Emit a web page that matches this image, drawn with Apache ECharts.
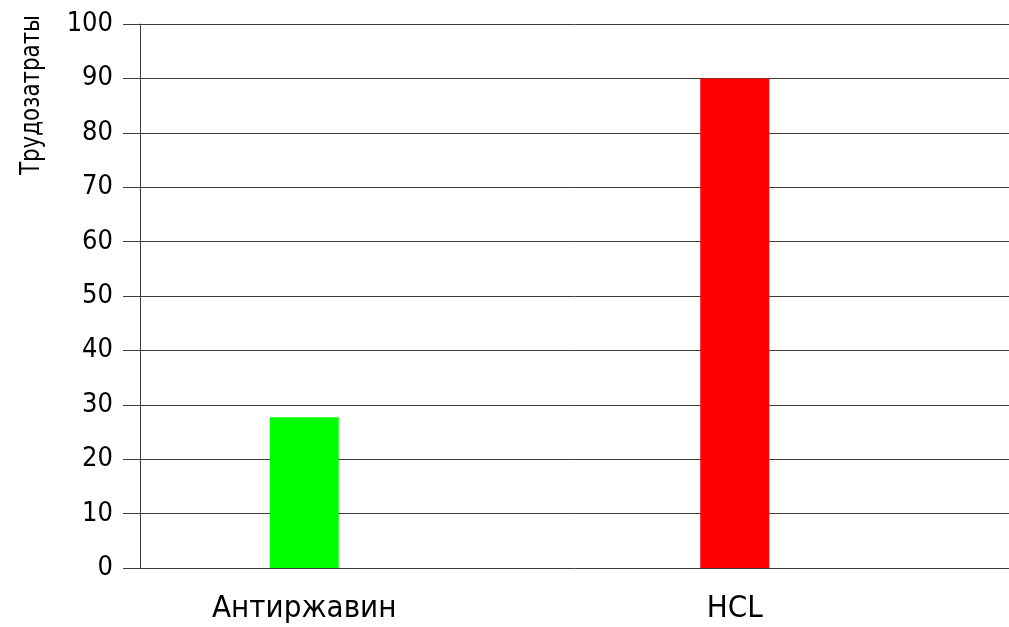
<!DOCTYPE html>
<html>
<head>
<meta charset="utf-8">
<script src="https://cdn.jsdelivr.net/npm/echarts@6/dist/echarts.min.js"></script>
<style>
html,body{margin:0;padding:0;background:#fff;}
#chart{width:1009px;height:627px;}
</style>
</head>
<body>
<div id="chart"></div>
<script>
const categories = ['Антиржавин', 'HCL'];
const values = [27.7, 90];
const barColors = ['#00ff00', '#ff0000'];
const yAxisTitle = 'Трудозатраты';
const yMin = 0, yMax = 100, yStep = 10;

const FONT = '"DejaVu Sans Condensed", "Liberation Sans Narrow", sans-serif';
const LINE = '#3c3c3c';

const chart = echarts.init(document.getElementById('chart'), null, {renderer: 'canvas'});
chart.setOption({
  animation: false,
  backgroundColor: '#ffffff',
  grid: [
    {left: 89, width: 861, top: 24, height: 544},
    {left: 140, width: 869, top: 24, height: 544}
  ],
  xAxis: [
    {
      type: 'category', gridIndex: 0, data: categories,
      axisLine: {show: false}, axisTick: {show: false},
      axisLabel: {color: '#000', fontFamily: FONT, fontSize: 31, margin: 25}
    },
    {
      type: 'category', gridIndex: 1, data: categories,
      axisLine: {show: false}, axisTick: {show: false}, axisLabel: {show: false}
    }
  ],
  yAxis: [
    {
      type: 'value', gridIndex: 0, min: yMin, max: yMax, interval: yStep, show: false
    },
    {
      type: 'value', gridIndex: 1, min: yMin, max: yMax, interval: yStep,
      axisLine: {show: true, lineStyle: {color: LINE, width: 1}},
      axisTick: {show: true, length: 17, lineStyle: {color: LINE, width: 1}},
      axisLabel: {color: '#000', fontFamily: FONT, fontSize: 27, margin: 27},
      splitLine: {show: true, lineStyle: {color: LINE, width: 1}}
    }
  ],
  graphic: [
    {
      type: 'text', left: 18, top: 15, rotation: Math.PI / 2, scaleX: 0.88,
      style: {text: yAxisTitle, fill: '#000', font: '27px ' + FONT}
    }
  ],
  series: [
    {
      type: 'bar', xAxisIndex: 0, yAxisIndex: 0, barWidth: 69,
      data: values.map((v, i) => ({value: v, itemStyle: {color: barColors[i]}}))
    }
  ]
});
</script>
</body>
</html>
